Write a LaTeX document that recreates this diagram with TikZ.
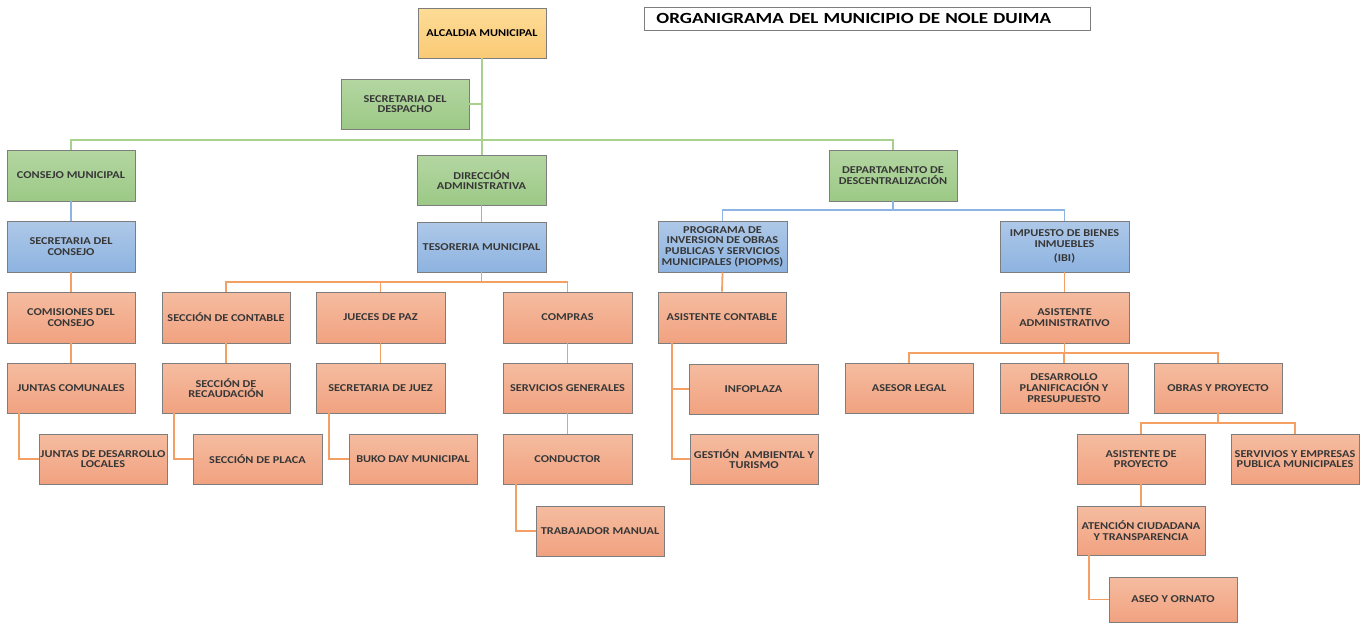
\documentclass[tikz,border=0pt]{standalone}
\usepackage{fontspec}
\newfontfamily\boxfont{Carlito}[FakeStretch=1.17]
\newfontfamily\titlefont{Carlito}[FakeStretch=1.23]
\usetikzlibrary{calc}
\definecolor{g1}{RGB}{180,214,162}
\definecolor{g2}{RGB}{156,201,134}
\definecolor{b1}{RGB}{174,200,232}
\definecolor{b2}{RGB}{141,179,224}
\definecolor{o1}{RGB}{245,188,160}
\definecolor{o2}{RGB}{241,162,128}
\definecolor{y1}{RGB}{253,220,150}
\definecolor{y2}{RGB}{250,202,118}
\definecolor{bord}{RGB}{125,125,125}
\definecolor{txt}{RGB}{55,55,55}
\definecolor{gl}{RGB}{169,209,142}
\definecolor{bl}{RGB}{141,180,226}
\definecolor{ol}{RGB}{244,160,100}
\newcommand\bx[7]{%
  \pgfmathsetmacro\bxw{#4-#2}\pgfmathsetmacro\bxh{#5-#3}%
  \pgfmathsetmacro\bxcx{(#2+#4)/2}\pgfmathsetmacro\bxcy{(#3+#5)/2}%
  \node[#6, minimum width=\bxw pt, minimum height=\bxh pt] (#1) at (\bxcx,\bxcy) {#7};}
\tikzset{
  box/.style={draw=bord, line width=0.9pt, inner sep=1pt, align=center, text=txt,
    font={\boxfont\bfseries\fontsize{10.5}{10.7}\selectfont}},
  gbox/.style={box, top color=g1, bottom color=g2},
  bbox/.style={box, top color=b1, bottom color=b2},
  obox/.style={box, top color=o1, bottom color=o2},
  ybox/.style={box, top color=y1, bottom color=y2, text=black},
  gline/.style={draw=gl, line width=1.8pt},
  bline/.style={draw=bl, line width=1.8pt},
  oline/.style={draw=ol, line width=1.8pt},
}
\begin{document}
\begin{tikzpicture}[x=1pt,y=-1pt]
\useasboundingbox (0,0) rectangle (1364,624);
% title
\node[draw=bord, line width=0.8pt, fill=white, minimum width=446pt, minimum height=23pt,
  anchor=north west, inner xsep=12pt, text width=422pt, align=left,
  font={\titlefont\bfseries\fontsize{15.5}{16}\selectfont}] (title) at (644,7) {ORGANIGRAMA DEL MUNICIPIO DE NOLE DUIMA};
% level 0/1
\bx{alc}{418}{8}{546}{58}{ybox}{ALCALDIA MUNICIPAL}
\bx{sdes}{341}{79}{469}{129}{gbox}{SECRETARIA DEL\\DESPACHO}
\bx{cons}{7}{150}{135}{201}{gbox}{CONSEJO MUNICIPAL}
\bx{dir}{417}{155}{546}{205}{gbox}{DIRECCIÓN\\ADMINISTRATIVA}
\bx{dep}{829}{150}{957}{201}{gbox}{DEPARTAMENTO DE\\DESCENTRALIZACIÓN}
% blue
\bx{scon}{7}{221}{135}{272}{bbox}{SECRETARIA DEL\\CONSEJO}
\bx{tes}{417}{222}{546}{272}{bbox}{TESORERIA MUNICIPAL}
\bx{prog}{658}{221}{787}{272}{bbox}{PROGRAMA DE\\INVERSION DE OBRAS\\PUBLICAS Y SERVICIOS\\MUNICIPALES (PIOPMS)}
\bx{imp}{1000}{221}{1129}{272}{bbox}{IMPUESTO DE BIENES\\INMUEBLES\\[4pt](IBI)}
% row 3
\bx{com}{7}{292}{135}{343}{obox}{COMISIONES DEL\\CONSEJO}
\bx{scont}{162}{292}{290}{343}{obox}{SECCIÓN DE CONTABLE}
\bx{jue}{316}{292}{445}{343}{obox}{JUECES DE PAZ}
\bx{compr}{503}{292}{632}{343}{obox}{COMPRAS}
\bx{acon}{658}{292}{786}{343}{obox}{ASISTENTE CONTABLE}
\bx{aadm}{1000}{292}{1129}{343}{obox}{ASISTENTE\\ADMINISTRATIVO}
% row 4
\bx{jcom}{7}{363}{135}{413}{obox}{JUNTAS COMUNALES}
\bx{srec}{162}{363}{290}{413}{obox}{SECCIÓN DE\\RECAUDACIÓN}
\bx{sjuez}{316}{363}{445}{413}{obox}{SECRETARIA DE JUEZ}
\bx{serv}{503}{363}{632}{413}{obox}{SERVICIOS GENERALES}
\bx{info}{689}{364}{818}{414}{obox}{INFOPLAZA}
\bx{ases}{845}{363}{973}{413}{obox}{ASESOR LEGAL}
\bx{desa}{1000}{363}{1128}{413}{obox}{DESARROLLO\\PLANIFICACIÓN Y\\PRESUPUESTO}
\bx{obras}{1154}{363}{1282}{413}{obox}{OBRAS Y PROYECTO}
% row 5
\bx{jdes}{39}{434}{167}{484}{obox}{JUNTAS DE DESARROLLO\\LOCALES}
\bx{splac}{193}{434}{322}{484}{obox}{SECCIÓN DE PLACA}
\bx{buko}{349}{434}{477}{484}{obox}{BUKO DAY MUNICIPAL}
\bx{cond}{503}{434}{632}{484}{obox}{CONDUCTOR}
\bx{gest}{690}{434}{818}{484}{obox}{GESTIÓN~~AMBIENTAL Y\\TURISMO}
\bx{aproy}{1077}{434}{1205}{484}{obox}{ASISTENTE DE\\PROYECTO}
\bx{sempr}{1231}{434}{1359}{484}{obox}{SERVIVIOS Y EMPRESAS\\PUBLICA MUNICIPALES}
% row 6/7
\bx{trab}{536}{506}{664}{556}{obox}{TRABAJADOR MANUAL}
\bx{aten}{1077}{506}{1205}{555}{obox}{ATENCIÓN CIUDADANA\\Y TRANSPARENCIA}
\bx{aseo}{1109}{577}{1237}{622}{obox}{ASEO Y ORNATO}
% connectors
\coordinate (gbus) at (482,140);
\coordinate (bbus) at (893,210);
\coordinate (obus) at (481,282);
\coordinate (abus) at (1064,353);
\coordinate (pbus) at (1218,423);
\path[gline] (alc.south) -- (alc.south |- dir.north);
\path[gline] (sdes.east) -- (sdes.east -| alc.south);
\path[gline] (cons.north) -- (cons.north |- gbus) -- (dep.north |- gbus) -- (dep.north);
\path[bline] (cons.south) -- (scon.north);
\path[bline] (dir.south) -- (tes.north);
\path[bline] (dep.south) -- (dep.south |- bbus);
\path[bline] (prog.north) -- (prog.north |- bbus) -- (imp.north |- bbus) -- (imp.north);
\path[oline] (scon.south) -- (com.north);
\path[oline] (com.south) -- (jcom.north);
\path[oline] (tes.south) -- (tes.south |- obus);
\path[oline] (scont.north) -- (scont.north |- obus) -- (compr.north |- obus) -- (compr.north);
\path[oline] (jue.north) -- (jue.north |- obus);
\path[oline] (scont.south) -- (srec.north);
\path[oline] (jue.south) -- (sjuez.north);
\path[oline] (compr.south) -- (serv.north);
\path[oline] (serv.south) -- (cond.north);
\path[oline] (prog.south) -- (acon.north);
\path[oline] (imp.south) -- (aadm.north);
\path[oline] (aadm.south) -- (aadm.south |- abus);
\path[oline] (ases.north) -- (ases.north |- abus) -- (obras.north |- abus) -- (obras.north);
\path[oline] (desa.north) -- (desa.north |- abus);
\path[oline] (obras.south) -- (obras.south |- pbus);
\path[oline] (aproy.north) -- (aproy.north |- pbus) -- (sempr.north |- pbus) -- (sempr.north);
\path[oline] (aproy.south) -- (aten.north);
\path[oline] ([xshift=-52pt]jcom.south) |- (jdes.west);
\path[oline] ([xshift=-52pt]srec.south) |- (splac.west);
\path[oline] ([xshift=-51.5pt]sjuez.south) |- (buko.west);
\path[oline] ([xshift=-51.5pt]cond.south) |- (trab.west);
\path[oline] ([xshift=-50pt]acon.south) |- (info.west);
\path[oline] ([xshift=-50pt]acon.south) |- (gest.west);
\path[oline] ([xshift=-52pt]aten.south) |- (aseo.west);
\end{tikzpicture}
\end{document}
